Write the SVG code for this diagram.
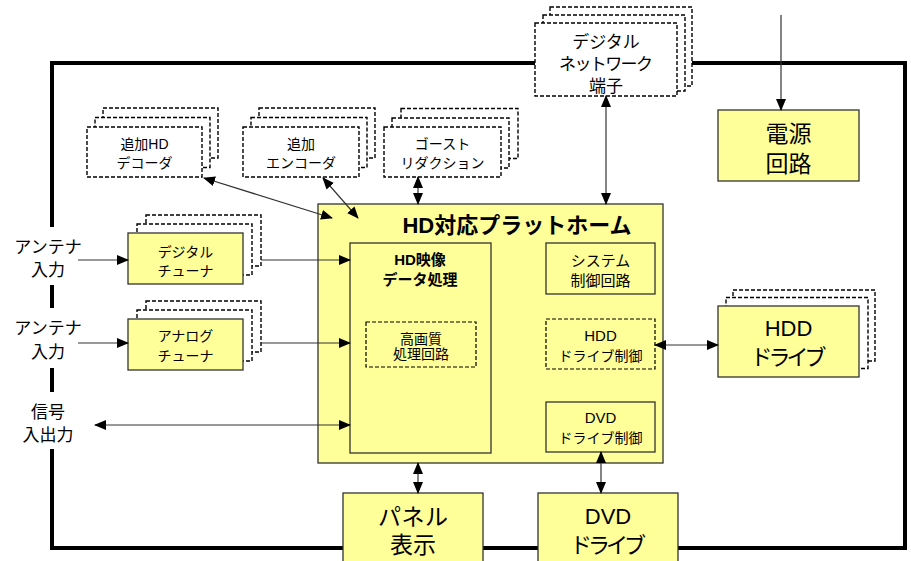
<svg xmlns="http://www.w3.org/2000/svg" width="911" height="561" viewBox="0 0 911 561">
<defs>
<marker id="ah" markerUnits="userSpaceOnUse" markerWidth="12" markerHeight="10" refX="11" refY="5" orient="auto-start-reverse" viewBox="0 0 12 10">
<path d="M0,0 L12,5 L0,10 Z" fill="#000"/>
</marker>
<style>
text{font-family:"Liberation Sans","Noto Sans CJK JP",sans-serif;fill:#000;text-anchor:middle}
.s14{font-size:14px}.s15{font-size:15px}.s16{font-size:16px}.s17{font-size:17px}.s22{font-size:22px}.s23{font-size:23px}
.b{font-weight:bold}
.y{fill:#FFFF99;stroke:#333;stroke-width:1.3}
.d{fill:#fff;stroke:#000;stroke-width:1.4;stroke-dasharray:4 2}
.dy{fill:none;stroke:#000;stroke-width:1.2;stroke-dasharray:4 2}
.c{fill:none;stroke:#333;stroke-width:1.2}
.frame{fill:none;stroke:#000;stroke-width:4}
</style>
</defs>
<rect width="911" height="561" fill="#fff"/>
<g id="frame">
<path class="frame" d="M52,227 V63 H905 V548 H52 V449 M52,285 V308 M52,368 V392"/>
</g>
<g id="hd-decoder">
<rect class="d" x="103" y="108" width="115" height="50"/>
<rect class="d" x="95" y="117.5" width="115" height="50"/>
<rect class="d" x="87" y="127" width="115" height="50"/>
<text class="s14" x="144.5" y="149">追加HD</text>
<text class="s14" x="144.5" y="168">デコーダ</text>
</g>
<g id="encoder">
<rect class="d" x="259" y="108" width="116" height="50"/>
<rect class="d" x="251" y="117.5" width="116" height="50"/>
<rect class="d" x="243" y="127" width="116" height="50"/>
<text class="s14" x="301" y="149">追加</text>
<text class="s14" x="301" y="168">エンコーダ</text>
</g>
<g id="ghost">
<rect class="d" x="401" y="108.5" width="117" height="50"/>
<rect class="d" x="392" y="118" width="117" height="50"/>
<rect class="d" x="384" y="127" width="117" height="50"/>
<text class="s14" x="442.5" y="149">ゴースト</text>
<text class="s14" x="442.5" y="168">リダクション</text>
</g>
<g id="network">
<rect class="d" x="550" y="7" width="142" height="79"/>
<rect class="d" x="543" y="15" width="142" height="76"/>
<rect class="d" x="535" y="23" width="142" height="73"/>
<text class="s17" x="606" y="48">デジタル</text>
<text class="s17" x="606" y="70" textLength="94" lengthAdjust="spacing">ネットワーク</text>
<text class="s17" x="606" y="92">端子</text>
</g>
<g id="power">
<rect class="y" x="718" y="110" width="141" height="71"/>
<text class="s23" x="788.5" y="141.5">電源</text>
<text class="s23" x="788.5" y="171.5">回路</text>
</g>
<g id="ant1-label">
<text class="s17" x="48" y="253">アンテナ</text>
<text class="s17" x="48" y="276">入力</text>
</g>
<g id="ant2-label">
<text class="s17" x="48" y="334">アンテナ</text>
<text class="s17" x="48" y="358">入力</text>
</g>
<g id="signal-label">
<text class="s17" x="48" y="418">信号</text>
<text class="s17" x="48" y="441">入出力</text>
</g>
<g id="digital-tuner">
<rect class="d" x="146" y="215" width="115" height="51"/>
<rect class="d" x="137" y="224" width="115" height="51"/>
<rect class="y" x="128" y="233" width="115" height="51"/>
<text class="s14" x="185.5" y="257">デジタル</text>
<text class="s14" x="185.5" y="276">チューナ</text>
</g>
<g id="analog-tuner">
<rect class="d" x="146" y="301" width="115" height="51"/>
<rect class="d" x="137" y="310" width="115" height="51"/>
<rect class="y" x="128" y="319" width="115" height="51"/>
<text class="s14" x="185.5" y="341">アナログ</text>
<text class="s14" x="185.5" y="361">チューナ</text>
</g>
<g id="hd-platform">
<rect class="y" x="318" y="204" width="345" height="259"/>
<text class="s22 b" x="517" y="233">HD対応プラットホーム</text>
</g>
<g id="hd-video">
<rect class="y" x="350" y="243" width="141" height="210"/>
<text class="s15 b" x="420" y="265">HD映像</text>
<text class="s15 b" x="420" y="285">データ処理</text>
</g>
<g id="hq-circuit">
<rect class="dy" x="366" y="322" width="110" height="45"/>
<text class="s14" x="421" y="344">高画質</text>
<text class="s14" x="421" y="359">処理回路</text>
</g>
<g id="system-control">
<rect class="y" x="546" y="243" width="109" height="51"/>
<text class="s15" x="600.5" y="266">システム</text>
<text class="s15" x="600.5" y="286">制御回路</text>
</g>
<g id="hdd-control">
<rect class="dy" x="546" y="319" width="109" height="50"/>
<text class="s15" x="600.5" y="341">HDD</text>
<text class="s14" x="600.5" y="361">ドライブ制御</text>
</g>
<g id="dvd-control">
<rect class="y" x="546" y="402" width="109" height="50"/>
<text class="s15" x="600.5" y="423">DVD</text>
<text class="s14" x="600.5" y="443">ドライブ制御</text>
</g>
<g id="hdd-drive">
<rect class="d" x="733" y="290" width="142" height="71"/>
<rect class="d" x="726" y="297.5" width="142" height="71"/>
<rect class="y" x="718" y="306" width="141" height="71"/>
<text class="s22" x="788.5" y="336">HDD</text>
<text class="s22" x="788.5" y="365" textLength="76" lengthAdjust="spacing">ドライブ</text>
</g>
<g id="panel">
<rect class="y" x="343" y="493" width="140" height="80"/>
<text class="s23" x="413" y="525" textLength="70" lengthAdjust="spacing">パネル</text>
<text class="s23" x="413" y="553">表示</text>
</g>
<g id="dvd-drive">
<rect class="y" x="538" y="493" width="140" height="80"/>
<text class="s22" x="608" y="524">DVD</text>
<text class="s22" x="608" y="553" textLength="76" lengthAdjust="spacing">ドライブ</text>
</g>
<g id="connectors">
<line class="c" x1="781" y1="15" x2="781" y2="110" marker-end="url(#ah)"/>
<line class="c" x1="606" y1="96" x2="606" y2="204" marker-start="url(#ah)" marker-end="url(#ah)"/>
<line class="c" x1="418" y1="177" x2="418" y2="204" marker-start="url(#ah)" marker-end="url(#ah)"/>
<line class="c" x1="204" y1="178" x2="332" y2="218" marker-start="url(#ah)" marker-end="url(#ah)"/>
<line class="c" x1="323" y1="178" x2="358" y2="218" marker-start="url(#ah)" marker-end="url(#ah)"/>
<line class="c" x1="78" y1="260" x2="128" y2="260" marker-end="url(#ah)"/>
<line class="c" x1="78" y1="343" x2="128" y2="343" marker-end="url(#ah)"/>
<line class="c" x1="261" y1="260" x2="350" y2="260" marker-end="url(#ah)"/>
<line class="c" x1="261" y1="343" x2="350" y2="343" marker-end="url(#ah)"/>
<line class="c" x1="95" y1="425" x2="350" y2="425" marker-start="url(#ah)" marker-end="url(#ah)"/>
<line class="c" x1="655" y1="345" x2="718" y2="345" marker-start="url(#ah)" marker-end="url(#ah)"/>
<line class="c" x1="418" y1="463" x2="418" y2="493" marker-start="url(#ah)" marker-end="url(#ah)"/>
<line class="c" x1="601" y1="452" x2="601" y2="493" marker-start="url(#ah)" marker-end="url(#ah)"/>
</g>
</svg>
